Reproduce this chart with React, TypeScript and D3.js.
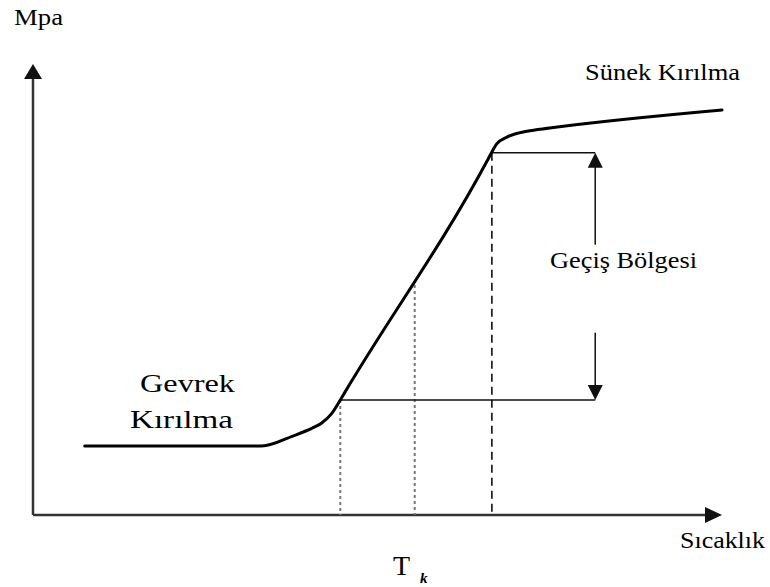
import React from "react";
import * as d3 from "d3";

// Schematic ductile-brittle transition curve (temperature vs. stress, arbitrary units 0..100)
const curveTemp = [7.5, 33.2, 37.7, 40.6, 41.9, 43.4, 44.6, 45.3, 65.9, 66.6, 67.3, 68.8, 71.7, 75.0, 100];
const curveStress = [15.3, 15.3, 17.5, 19.3, 20.4, 22.6, 25.5, 27.3, 78.5, 80.5, 82.3, 83.8, 85.1, 85.8, 89.8];

// transition markers
const markerTemps = [44.6, 55.4, 66.6];
const markerStyles = ["dotted", "dotted", "dashed"];
const markerTops = [25.5, 51.0, 80.3];
const lowerStress = 25.5;
const upperStress = 80.3;
const regionRight = 81.6;
const arrowUpFrom = 59.9;
const arrowDownFrom = 40.4;

const W = 770;
const H = 587;

export default function App() {
  const x = d3.scaleLinear().domain([0, 100]).range([33, 722]);
  const y = d3.scaleLinear().domain([0, 100]).range([515, 64]);

  const pts: [number, number][] = curveTemp.map((t, i) => [t, curveStress[i]]);
  const line = d3
    .line<[number, number]>()
    .x((d) => x(d[0]))
    .y((d) => y(d[1]))
    .curve(d3.curveMonotoneX);

  const serif = "'Liberation Serif', 'Times New Roman', serif";
  const x0 = x(0);
  const y0 = y(0);
  const xr = x(regionRight);

  return (
    <svg
      width={W}
      height={H}
      style={{ position: "absolute", left: 0, top: 0, background: "#fff" }}
    >
      <rect width={W} height={H} fill="#fff" />
      {/* axes */}
      <line x1={x0} y1={y0} x2={x0} y2={y(100) + 10} stroke="#333" strokeWidth={2.5} />
      <polygon
        points={`${x0},${y(100)} ${x0 - 9},${y(100) + 15} ${x0 + 9},${y(100) + 15}`}
        fill="#111"
      />
      <line x1={x0} y1={y0} x2={x(100) - 10} y2={y0} stroke="#333" strokeWidth={2.5} />
      <polygon
        points={`${x(100)},${y0} ${x(100) - 17},${y0 - 8} ${x(100) - 17},${y0 + 8}`}
        fill="#111"
      />

      {/* marker verticals */}
      {markerTemps.map((t, i) => (
        <line
          key={i}
          x1={x(t)}
          x2={x(t)}
          y1={y(markerTops[i])}
          y2={y0}
          stroke={markerStyles[i] === "dotted" ? "#777" : "#111"}
          strokeWidth={markerStyles[i] === "dotted" ? 2 : 1.6}
          strokeDasharray={markerStyles[i] === "dotted" ? "3,3" : "8,5"}
        />
      ))}

      {/* horizontal region lines */}
      <line x1={x(markerTemps[0])} x2={xr} y1={y(lowerStress)} y2={y(lowerStress)} stroke="#111" strokeWidth={1.5} />
      <line x1={x(markerTemps[2])} x2={xr} y1={y(upperStress)} y2={y(upperStress)} stroke="#111" strokeWidth={1.5} />

      {/* arrows */}
      <line x1={xr} x2={xr} y1={y(arrowUpFrom)} y2={y(upperStress) + 12} stroke="#111" strokeWidth={1.5} />
      <polygon
        points={`${xr},${y(upperStress)} ${xr - 7.5},${y(upperStress) + 15} ${xr + 7.5},${y(upperStress) + 15}`}
        fill="#111"
      />
      <line x1={xr} x2={xr} y1={y(arrowDownFrom)} y2={y(lowerStress) - 12} stroke="#111" strokeWidth={1.5} />
      <polygon
        points={`${xr},${y(lowerStress)} ${xr - 7.5},${y(lowerStress) - 15} ${xr + 7.5},${y(lowerStress) - 15}`}
        fill="#111"
      />

      {/* main curve */}
      <path d={line(pts) || ""} fill="none" stroke="#000" strokeWidth={3} strokeLinecap="round" />

      {/* labels */}
      <text x={14} y={25} fontFamily={serif} fontSize={24} textLength={49} lengthAdjust="spacingAndGlyphs">Mpa</text>
      <text x={585} y={80} fontFamily={serif} fontSize={24} textLength={155} lengthAdjust="spacingAndGlyphs">Sünek Kırılma</text>
      <text x={550} y={268} fontFamily={serif} fontSize={24} textLength={147} lengthAdjust="spacingAndGlyphs">Geçiş Bölgesi</text>
      <text x={680} y={548} fontFamily={serif} fontSize={24} textLength={85} lengthAdjust="spacingAndGlyphs">Sıcaklık</text>
      <text x={140} y={392} fontFamily={serif} fontSize={25} textLength={95} lengthAdjust="spacingAndGlyphs">Gevrek</text>
      <text x={130} y={428} fontFamily={serif} fontSize={25} textLength={103} lengthAdjust="spacingAndGlyphs">Kırılma</text>
      <text x={393} y={575} fontFamily={serif} fontSize={28}>T</text>
      <text x={420} y={583} fontFamily={serif} fontSize={15} fontStyle="italic" fontWeight="bold">k</text>
    </svg>
  );
}
